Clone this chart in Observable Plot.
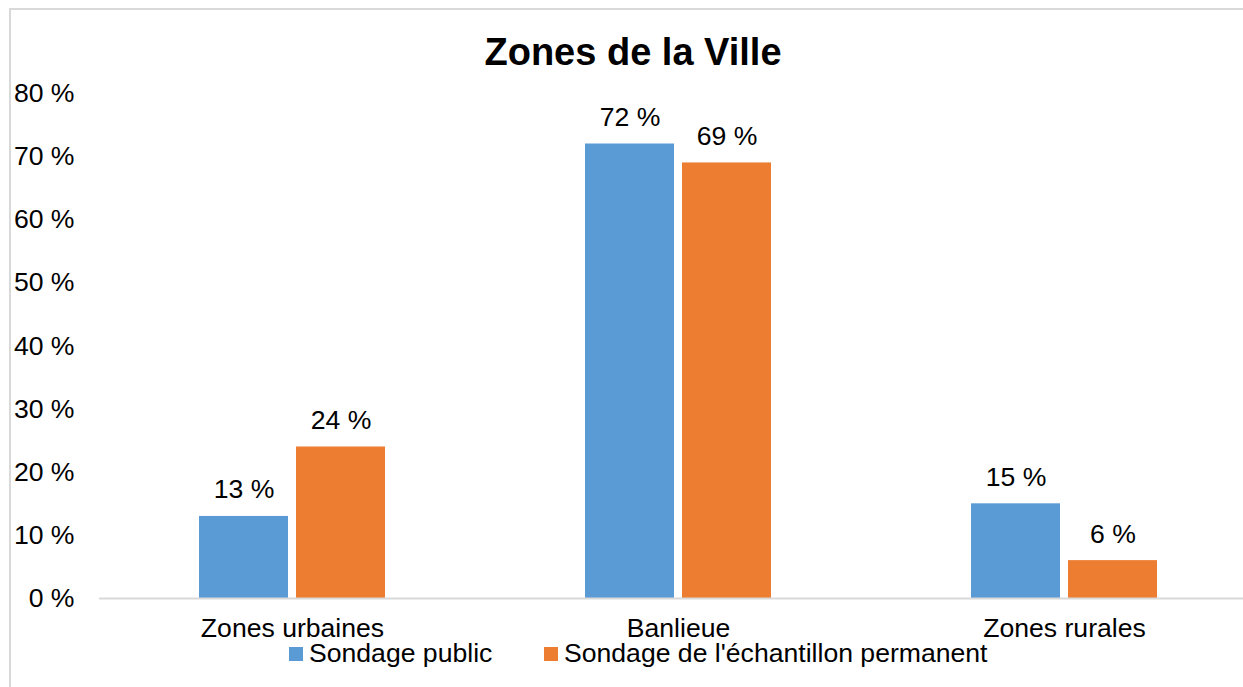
<!DOCTYPE html>
<html>
<head>
<meta charset="utf-8">
<script src="https://cdn.jsdelivr.net/npm/d3@7"></script>
<script src="https://cdn.jsdelivr.net/npm/@observablehq/plot@0.6"></script>
<style>
  html, body { margin: 0; padding: 0; background: #fff; overflow: hidden; width: 1243px; height: 687px; }
  body { position: relative; font-family: "Liberation Sans", Arial, sans-serif; color: #000; }
  #frame { position: absolute; left: 9px; top: 8px; width: 1300px; height: 700px; border: 2px solid #d9d9d9; box-sizing: border-box; }
  #title { position: absolute; left: 0; top: 30.6px; width: 1266px; text-align: center; font-size: 38px; font-weight: bold; line-height: 1.117; white-space: nowrap; }
  #chart { position: absolute; left: 0; top: 70px; }
  .leg { position: absolute; top: 638.5px; display: flex; align-items: flex-start; font-size: 26.6px; line-height: 29px; white-space: nowrap; }
  .leg .sw { width: 14px; height: 14px; margin-top: 8.5px; margin-right: 6px; }
</style>
</head>
<body>
<div id="frame"></div>
<div id="title">Zones de la Ville</div>
<div id="chart"></div>
<div id="legend"></div>
<script>
const categories = ["Zones urbaines", "Banlieue", "Zones rurales"];
const series = ["Sondage public", "Sondage de l'échantillon permanent"];
const publicValues = [13, 72, 15];
const permanentValues = [24, 69, 6];
const yTicks = [0, 10, 20, 30, 40, 50, 60, 70, 80];
const colors = ["#5B9BD5", "#ED7D31"];

const data = categories.flatMap((c, i) => [
  {category: c, series: series[0], value: publicValues[i]},
  {category: c, series: series[1], value: permanentValues[i]}
]);

const font = "Liberation Sans, Arial, sans-serif";
const fs = 26.6;

const chart = Plot.plot({
  width: 1260,
  height: 570,
  marginTop: 23,
  marginBottom: 42,
  marginLeft: 98,
  marginRight: 3,
  style: {fontFamily: font, fontSize: fs + "px", color: "#000", background: "transparent", maxWidth: "none", overflow: "visible"},
  fx: {domain: categories, padding: 0, label: null},
  x: {domain: series, paddingInner: 0.0816, paddingOuter: 1.013, axis: null},
  y: {domain: [0, 80], axis: null},
  color: {domain: series, range: colors},
  marks: [
    Plot.axisY({ticks: yTicks, tickSize: 0, tickPadding: 25, tickFormat: d => d + " %", fontSize: fs, fill: "#000", label: null}),
    Plot.axisFx({anchor: "bottom", tickSize: 0, tickPadding: 20, fontSize: fs, fill: "#000", label: null}),
    Plot.barY(data, {fx: "category", x: "series", y: "value", fill: "series"}),
    Plot.ruleY([0], {stroke: "#d9d9d9", strokeWidth: 2}),
    Plot.text(data, {fx: "category", x: "series", y: "value", text: d => d.value + " %", lineAnchor: "bottom", dy: -18, fontSize: fs, fill: "#000"})
  ]
});
document.getElementById("chart").appendChild(chart);

const legend = document.getElementById("legend");
const legendLeft = [289, 544];
series.forEach((s, i) => {
  const item = document.createElement("div");
  item.className = "leg";
  item.style.left = legendLeft[i] + "px";
  const sw = document.createElement("div");
  sw.className = "sw";
  sw.style.background = colors[i];
  const t = document.createElement("span");
  t.textContent = s;
  item.appendChild(sw);
  item.appendChild(t);
  legend.appendChild(item);
});
</script>
</body>
</html>
